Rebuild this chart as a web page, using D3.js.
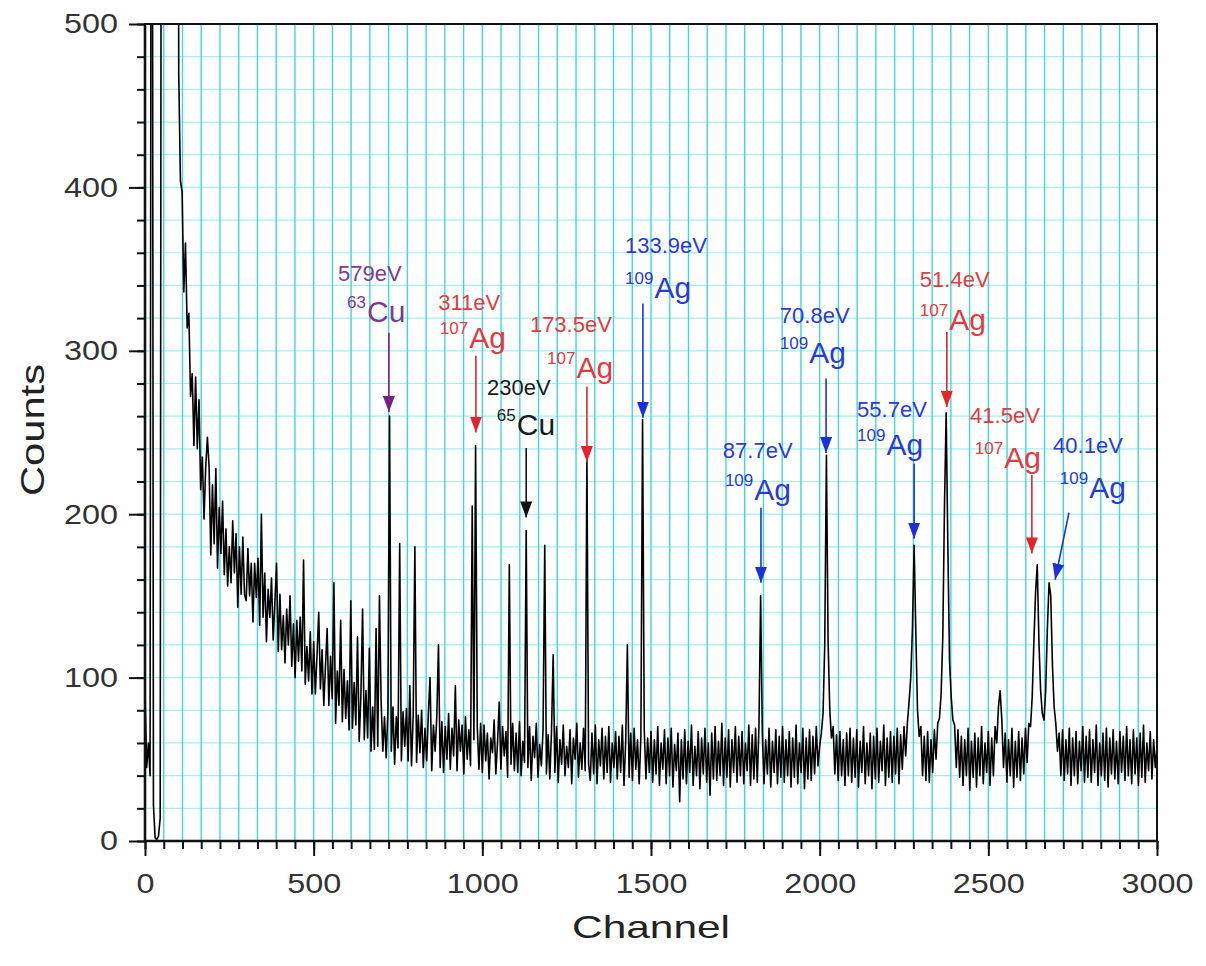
<!DOCTYPE html>
<html><head><meta charset="utf-8">
<script src="https://cdn.jsdelivr.net/npm/d3@7"></script>
<style>html,body{margin:0;padding:0;background:#fff;} svg{display:block;}</style>
</head><body><svg id="chart" width="1206" height="966"></svg>
<script>
// ---------- data ----------
const xTickValues = [0, 500, 1000, 1500, 2000, 2500, 3000];
const yTickValues = [0, 100, 200, 300, 400, 500];
const channelStep = 5;   // counts below are read every 5 channels, channel 0..3000
const counts = [
  92,45,60,40,1000,22,2,1,3,14,1000,1000,1000,1000,1000,1000,1000,1000,1000,1000,
  470,404,397,336,366,314,323,272,286,242,284,240,270,215,235,197,229,247,229,175,
  218,182,228,167,204,176,208,163,191,156,180,158,196,164,188,143,180,151,186,151,
  147,179,150,170,134,170,149,173,132,200,137,164,122,154,137,161,123,146,170,116,
  151,117,138,109,142,120,150,107,133,100,135,110,137,104,172,96,119,98,128,90,
  122,90,114,140,93,117,83,107,130,83,113,87,158,72,104,83,135,73,105,75,
  98,68,147,69,97,71,125,61,89,142,62,92,63,118,55,82,56,130,58,150,
  85,55,76,51,79,260,55,82,47,76,57,182,49,79,58,81,49,95,46,76,
  180,48,77,54,80,45,69,49,78,100,43,71,55,76,120,45,73,42,70,50,
  78,44,69,52,95,43,74,55,71,41,76,50,68,46,205,62,242,70,44,72,
  42,71,49,66,38,63,54,74,41,60,85,44,70,52,67,39,169,47,72,43,
  66,42,73,40,61,48,190,45,70,37,64,51,72,39,59,46,68,181,41,65,
  38,67,114,42,70,36,62,47,71,40,58,45,68,35,63,50,72,39,60,44,
  69,43,236,47,37,66,41,71,35,62,46,69,38,64,42,70,36,60,45,67,
  38,64,42,71,34,61,120,39,66,37,69,44,62,35,64,258,68,38,63,42,
  67,36,62,41,70,34,60,44,68,35,63,40,69,33,59,43,66,24,62,38,
  68,35,61,42,71,34,58,40,67,32,63,41,69,36,60,28,66,38,70,37,
  61,40,72,34,63,39,68,33,62,42,70,36,64,40,67,35,60,43,71,34,
  65,38,69,36,70,150,66,35,62,41,69,33,61,42,68,35,64,39,70,36,
  62,40,67,33,63,39,71,35,60,42,69,32,63,38,68,37,64,41,70,46,
  58,66,78,120,236,122,80,63,70,41,65,37,67,40,62,34,66,40,69,36,
  63,39,68,33,61,42,70,35,60,40,66,32,64,38,69,36,61,43,71,34,
  63,39,67,36,64,41,69,35,65,44,70,52,72,85,100,130,181,128,80,64,
  70,40,64,37,67,36,62,42,68,50,72,75,90,125,205,262,180,110,88,74,
  71,45,68,39,64,34,62,40,69,31,61,39,66,33,63,40,70,35,60,42,
  67,34,63,40,70,60,82,92,74,45,66,36,62,40,69,33,61,39,67,37,
  63,41,69,48,72,70,88,122,152,169,122,92,78,74,92,130,158,150,108,82,
  72,55,66,40,68,37,62,41,69,34,63,40,67,35,61,43,70,36,64,39,
  68,36,62,42,71,34,60,40,66,37,69,33,63,41,68,38,61,35,67,42,
  64,37,70,40,62,35,68,41,63,34,66,39,71,36,60,43,67,38,62,45,
  58
];
const channels = counts.map((_, i) => i * channelStep);

// peak annotations (data units)
const annEnergy  = ["579eV","311eV","230eV","173.5eV","133.9eV","87.7eV","70.8eV","55.7eV","51.4eV","41.5eV","40.1eV"];
const annMass    = ["63","107","65","107","109","109","109","109","107","107","109"];
const annElement = ["Cu","Ag","Cu","Ag","Ag","Ag","Ag","Ag","Ag","Ag","Ag"];
const annGroup   = ["Cu63","Ag107","Cu65","Ag107","Ag109","Ag109","Ag109","Ag109","Ag107","Ag107","Ag109"];
const annEnergyPos = [[572,343],[869,325],[1014,273],[1141,311.5],[1423,360],[1713,234.4],[1882,317],[2111,259.5],[2297,339],[2446,255.8],[2692,237.5]];
const annIsoPos    = [[599,317.6],[874,301.7],[1043,248.5],[1192,283.4],[1423,332.3],[1719,208.7],[1882,292.5],[2111,236.2],[2297,312.7],[2460,228.3],[2712,209.9]];
const annArrowFrom = [[723,311],[981,297],[1130,240.5],[1310,278],[1476,329],[1826,204],[2019,283],[2280,231],[2377,311.5],[2629,224],[2739,201]];
const annArrowTo   = [[723,262.5],[981,250],[1130,198],[1310,232],[1476,259],[1826,158],[2019,237.5],[2280,185],[2377,265.6],[2629,176],[2698,160]];

// ---------- styles ----------
const groupColor = {Cu63: "#7a1f86", Ag107: "#e3232a", Cu65: "#111111", Ag109: "#1b2fe0"};
const groupTextColor = {Cu63: "#7d3a8e", Ag107: "#e23a3f", Cu65: "#1a1a1a", Ag109: "#2a3ad6"};

const svg = d3.select("#chart");
const W = 1206, H = 966;
const m = {left: 145, right: W - 1157, top: 24, bottom: H - 841};
const iw = W - m.left - m.right, ih = H - m.top - m.bottom;

const x = d3.scaleLinear().domain([0, 3000]).range([m.left, m.left + iw]);
const y = d3.scaleLinear().domain([0, 500]).range([m.top + ih, m.top]);

const xMinor = d3.range(0, 3000 + 1e-6, 500 / 9);
const yMinor = d3.range(0, 501, 20);

// grid
const grid = svg.append("g");
grid.selectAll("line.h").data(yMinor).join("line")
  .attr("x1", m.left).attr("x2", m.left + iw)
  .attr("y1", d => y(d)).attr("y2", d => y(d))
  .attr("stroke", "#a6eeee").attr("stroke-width", 1.2);
grid.selectAll("line.v").data(xMinor).join("line")
  .attr("y1", m.top).attr("y2", m.top + ih)
  .attr("x1", d => x(d)).attr("x2", d => x(d))
  .attr("stroke", "#3dd8d8").attr("stroke-width", 1.4);

// data
svg.append("clipPath").attr("id", "clip").append("rect")
  .attr("x", m.left).attr("y", m.top).attr("width", iw).attr("height", ih);
const line = d3.line().x((d, i) => x(channels[i])).y(d => y(d));
svg.append("path").datum(counts)
  .attr("clip-path", "url(#clip)")
  .attr("d", line).attr("fill", "none")
  .attr("stroke", "#000").attr("stroke-width", 1.6).attr("stroke-linejoin", "round");

// axes
const font = "'Liberation Sans', Arial, Helvetica, sans-serif";
function styleLabels(g) {
  g.selectAll("text")
    .attr("font-family", font).attr("font-size", 28).attr("fill", "#333")
    .attr("textLength", function() { return this.textContent.length * 18; })
    .attr("lengthAdjust", "spacingAndGlyphs");
  g.select(".domain").remove();
  g.selectAll(".tick line").attr("stroke", "#111").attr("stroke-width", 2);
}
const gx = svg.append("g").attr("transform", `translate(0,${m.top + ih})`)
  .call(d3.axisBottom(x).tickValues(xTickValues).tickSize(15).tickPadding(17).tickFormat(d3.format("d")));
styleLabels(gx);
const gxm = svg.append("g").attr("transform", `translate(0,${m.top + ih})`)
  .call(d3.axisBottom(x).tickValues(xMinor).tickSize(8).tickFormat(""));
gxm.select(".domain").remove();
gxm.selectAll(".tick line").attr("stroke", "#111").attr("stroke-width", 2);

const gy = svg.append("g").attr("transform", `translate(${m.left},0)`)
  .call(d3.axisLeft(y).tickValues(yTickValues).tickSize(16).tickPadding(11).tickFormat(d3.format("d")));
styleLabels(gy);
const gym = svg.append("g").attr("transform", `translate(${m.left},0)`)
  .call(d3.axisLeft(y).tickValues(yMinor).tickSize(8).tickFormat(""));
gym.select(".domain").remove();
gym.selectAll(".tick line").attr("stroke", "#111").attr("stroke-width", 2);

// frame
svg.append("rect").attr("x", m.left).attr("y", m.top).attr("width", iw).attr("height", ih)
  .attr("fill", "none").attr("stroke", "#111").attr("stroke-width", 2);
svg.append("line").attr("x1", m.left).attr("x2", m.left).attr("y1", m.top).attr("y2", m.top + ih)
  .attr("stroke", "#111").attr("stroke-width", 2.6);
svg.append("line").attr("x1", m.left).attr("x2", m.left + iw).attr("y1", m.top + ih).attr("y2", m.top + ih)
  .attr("stroke", "#111").attr("stroke-width", 2.6);

// axis titles
svg.append("text").attr("x", 651).attr("y", 938).attr("text-anchor", "middle")
  .attr("font-family", font).attr("font-size", 32).attr("fill", "#222")
  .attr("textLength", 158).attr("lengthAdjust", "spacingAndGlyphs").text("Channel");
svg.append("text").attr("transform", "translate(44,430) rotate(-90)").attr("text-anchor", "middle")
  .attr("font-family", font).attr("font-size", 34).attr("fill", "#222")
  .attr("textLength", 132).attr("lengthAdjust", "spacingAndGlyphs").text("Counts");

// arrow markers
const defs = svg.append("defs");
Object.entries(groupColor).forEach(([k, c]) => {
  defs.append("marker").attr("id", "arr-" + k)
    .attr("viewBox", "0 0 16 12").attr("refX", 16).attr("refY", 6)
    .attr("markerWidth", 16).attr("markerHeight", 12)
    .attr("markerUnits", "userSpaceOnUse").attr("orient", "auto")
    .append("path").attr("d", "M0,0 L16,6 L0,12 Z").attr("fill", c);
});

// annotations
const ann = svg.append("g");
annEnergy.forEach((e, i) => {
  const grp = annGroup[i];
  const tc = groupTextColor[grp];
  ann.append("text").attr("x", x(annEnergyPos[i][0])).attr("y", y(annEnergyPos[i][1]))
    .attr("font-family", font).attr("font-size", 22).attr("fill", tc).text(e);
  const t = ann.append("text").attr("x", x(annIsoPos[i][0])).attr("y", y(annIsoPos[i][1]))
    .attr("font-family", font).attr("fill", tc);
  t.append("tspan").attr("font-size", 17).attr("dy", -14).text(annMass[i]);
  t.append("tspan").attr("font-size", 30).attr("dy", 14).attr("dx", 1).text(annElement[i]);
  const a = annArrowFrom[i], b = annArrowTo[i];
  ann.append("line").attr("x1", x(a[0])).attr("y1", y(a[1])).attr("x2", x(b[0])).attr("y2", y(b[1]))
    .attr("stroke", groupColor[grp]).attr("stroke-width", 1.6)
    .attr("marker-end", `url(#arr-${grp})`);
});
</script>
</body></html>
